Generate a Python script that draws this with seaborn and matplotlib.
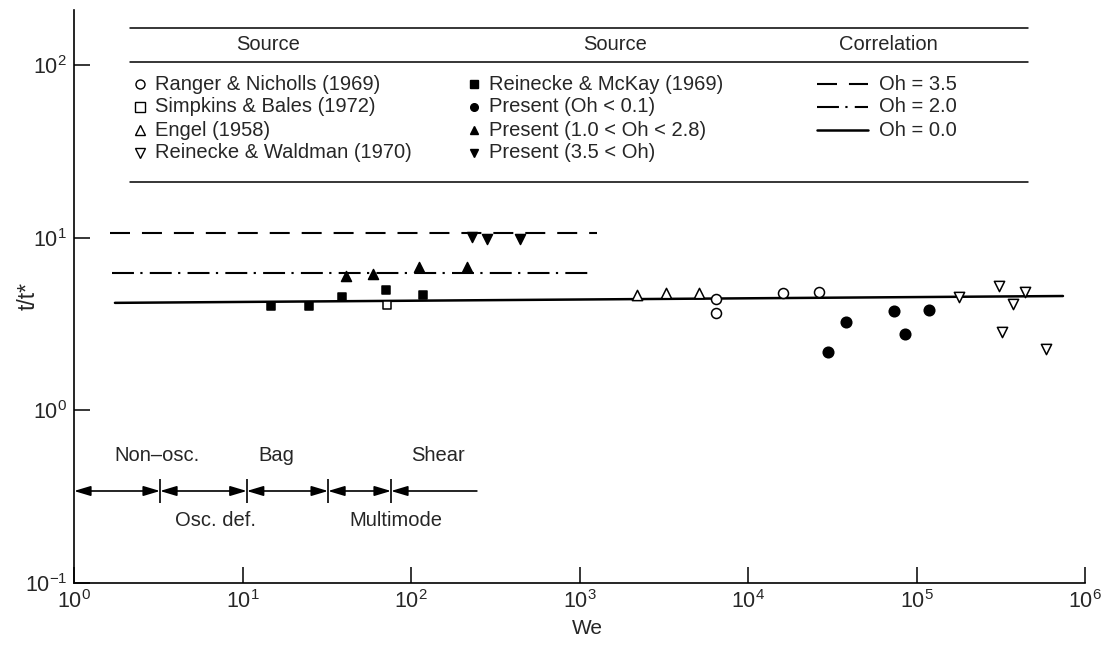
import matplotlib
matplotlib.use("Agg")
import matplotlib.pyplot as plt
from matplotlib.lines import Line2D
import seaborn as sns

# ---------------- data ----------------
# Literature sources (open symbols)
ranger_we = [6460, 6460, 16100, 26400]
ranger_t = [4.42, 3.66, 4.79, 4.85]
simpkins_we = [72.0]
simpkins_t = [4.07]
engel_we = [2190, 3260, 5120]
engel_t = [4.66, 4.79, 4.79]
waldman_we = [178700, 309000, 321500, 374000, 440500, 587000]
waldman_t = [4.54, 5.25, 2.85, 4.13, 4.85, 2.27]

# Filled symbols
mckay_we = [14.8, 24.8, 38.9, 71.1, 118]
mckay_t = [4.03, 4.03, 4.54, 4.98, 4.66]
present_low_we = [29850, 38180, 73500, 85500, 118600]
present_low_t = [2.18, 3.25, 3.77, 2.77, 3.81]
present_mid_we = [41.1, 59.5, 111, 215]
present_mid_t = [6.0, 6.17, 6.76, 6.76]
present_high_we = [230, 283, 443]
present_high_t = [10.1, 9.8, 9.8]

# Correlations t/t* vs We for three Ohnesorge numbers
corr_labels = ["Oh = 3.5", "Oh = 2.0", "Oh = 0.0"]
corr_we = [[1.64, 1270], [1.68, 1154], [1.75, 740000]]
corr_t = [[10.6, 10.6], [6.25, 6.25], [4.19, 4.59]]

# Breakup regime boundaries along We
regime_bounds = [1.0, 3.24, 10.6, 32.2, 76.1, 246]
regime_names_top = ["Non\u2013osc.", "Bag", "Shear"]
regime_names_bottom = ["Osc. def.", "Multimode"]

x_ticks = [1e0, 1e1, 1e2, 1e3, 1e4, 1e5, 1e6]
y_ticks = [1e-1, 1e0, 1e1, 1e2]

# ---------------- style ----------------
sns.set_style("ticks")
plt.rcParams["font.family"] = ["Liberation Sans", "DejaVu Sans"]
plt.rcParams["mathtext.fontset"] = "custom"
plt.rcParams["mathtext.rm"] = "Liberation Sans"
plt.rcParams["mathtext.it"] = "Liberation Sans:italic"
plt.rcParams["mathtext.bf"] = "Liberation Sans:bold"
plt.rcParams["lines.scale_dashes"] = False

W, H = 1106, 650
fig = plt.figure(figsize=(W / 100, H / 100), dpi=100)
fig.patch.set_facecolor("white")
ax = fig.add_axes([74 / W, 1 - 583 / H, (1085 - 74) / W, (583 - 10) / H])
ax.set_facecolor("white")
ax.set_xscale("log")
ax.set_yscale("log")

LS_DASH = (0, (14.4, 8.6))
LS_DASHDOT = (0, (15.8, 4.6, 1.6, 5.2))
corr_styles = [LS_DASH, LS_DASHDOT, "-"]
corr_widths = [1.5, 1.5, 1.8]

# correlation lines
for we, t, ls, lw in zip(corr_we, corr_t, corr_styles, corr_widths):
    sns.lineplot(x=we, y=t, color="black", linewidth=lw, estimator=None,
                 sort=False, ax=ax, zorder=2)
    ax.lines[-1].set_linestyle(ls)


def scatter(we, t, marker, filled, size):
    sns.scatterplot(x=we, y=t, marker=marker, s=size ** 2,
                    color="black" if filled else "white",
                    edgecolor="black", linewidth=1.1, ax=ax, zorder=3)


scatter(ranger_we, ranger_t, "o", False, 7.2)
scatter(simpkins_we, simpkins_t, "s", False, 6.4)
scatter(engel_we, engel_t, "^", False, 7.4)
scatter(waldman_we, waldman_t, "v", False, 7.4)
scatter(mckay_we, mckay_t, "s", True, 6.0)
scatter(present_low_we, present_low_t, "o", True, 7.6)
scatter(present_mid_we, present_mid_t, "^", True, 7.2)
scatter(present_high_we, present_high_t, "v", True, 7.2)

# breakup regime map
arrow_y = 0.341
tick_f = 1.166
for i, (a, b) in enumerate(zip(regime_bounds[:-1], regime_bounds[1:])):
    style = "<|-|>" if i < len(regime_bounds) - 2 else "<|-"
    ax.annotate("", xy=(b, arrow_y), xytext=(a, arrow_y),
                arrowprops=dict(arrowstyle=style + ",head_length=1.0,head_width=0.3",
                                color="black", lw=1.2, shrinkA=0, shrinkB=0,
                                mutation_scale=10))
ax.vlines(regime_bounds[1:-1], arrow_y / tick_f, arrow_y * tick_f,
          color="black", lw=1.2)
for name, xpos in zip(regime_names_top, [3.11, 15.8, 145]):
    ax.text(xpos, 0.545, name, ha="center", va="center", fontsize=14.5)
for name, xpos in zip(regime_names_bottom, [6.87, 81.5]):
    ax.text(xpos, 0.229, name, ha="center", va="center", fontsize=14.5)

# axes
ax.set_xlim(1, 1e6)
ax.set_ylim(0.1, 208)
ax.set_xticks(x_ticks)
ax.set_yticks(y_ticks)
ax.minorticks_off()
ax.tick_params(direction="in", length=11.5, width=1.1, labelsize=15.5,
               pad=5, color="black")
for side in ("top", "right"):
    ax.spines[side].set_visible(False)
for side in ("left", "bottom"):
    ax.spines[side].set_linewidth(1.2)
    ax.spines[side].set_color("black")
ax.set_xlabel("We", fontsize=15)
ax.set_ylabel("t/t*", fontsize=16.5)
ax.xaxis.set_label_coords(0.508, -0.062)
ax.yaxis.set_label_coords(-0.034, 0.5)


# ---------------- key table ----------------
def fx(x):
    return x / W


def fy(y):
    return 1 - y / H


for yr in (28, 62, 182):
    fig.add_artist(Line2D([fx(130), fx(1028)], [fy(yr), fy(yr)],
                          color="black", lw=1.1))

KEY_FS = 14.5
for label, xc in zip(["Source", "Source", "Correlation"], [268, 615, 888]):
    fig.text(fx(xc), fy(45), label, ha="center", va="center", fontsize=KEY_FS)

row_y = [84, 107, 130, 153]
col1 = [("o", "Ranger & Nicholls (1969)"), ("s", "Simpkins & Bales (1972)"),
        ("^", "Engel (1958)"), ("v", "Reinecke & Waldman (1970)")]
col2 = [("s", "Reinecke & McKay (1969)"), ("o", "Present (Oh < 0.1)"),
        ("^", "Present (1.0 < Oh < 2.8)"), ("v", "Present (3.5 < Oh)")]
for (mk, txt), yr in zip(col1, row_y):
    fig.add_artist(Line2D([fx(140)], [fy(yr)], marker=mk, markersize=6.5,
                          markerfacecolor="white", markeredgecolor="black",
                          markeredgewidth=1.0, linestyle="none"))
    fig.text(fx(155), fy(yr), txt, ha="left", va="center", fontsize=KEY_FS)
for (mk, txt), yr in zip(col2, row_y):
    fig.add_artist(Line2D([fx(474)], [fy(yr)], marker=mk, markersize=5.5,
                          markerfacecolor="black", markeredgecolor="black",
                          linestyle="none"))
    fig.text(fx(489), fy(yr), txt, ha="left", va="center", fontsize=KEY_FS)
for label, ls, lw, yr in zip(corr_labels, corr_styles, corr_widths, row_y):
    fig.add_artist(Line2D([fx(817), fx(868)], [fy(yr), fy(yr)], color="black",
                          lw=lw, linestyle=ls))
    fig.text(fx(879), fy(yr), label, ha="left", va="center", fontsize=KEY_FS)

fig.savefig("out.png", dpi=100, facecolor="white")
